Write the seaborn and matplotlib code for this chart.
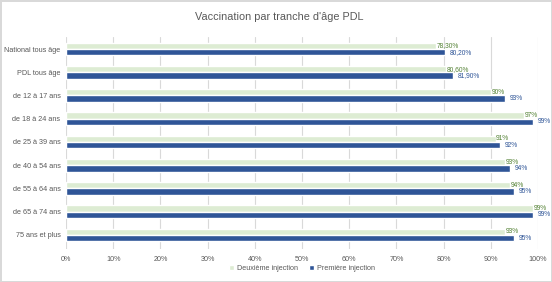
import matplotlib
matplotlib.use("Agg")
import matplotlib.pyplot as plt
import seaborn as sns
import pandas as pd
from matplotlib.ticker import FuncFormatter

categories = ["National tous âge", "PDL tous âge", "de 12 à 17 ans", "de 18 à 24 ans",
              "de 25 à 39 ans", "de 40 à 54 ans", "de 55 à 64 ans", "de 65 à 74 ans",
              "75 ans et plus"]
deuxieme = [78.3, 80.6, 90, 97, 91, 93, 94, 99, 93]
premiere = [80.2, 81.9, 93, 99, 92, 94, 95, 99, 95]
deuxieme_labels = ["78,30%", "80,60%", "90%", "97%", "91%", "93%", "94%", "99%", "93%"]
premiere_labels = ["80,20%", "81,90%", "93%", "99%", "92%", "94%", "95%", "99%", "95%"]
series = ["Deuxième injection", "Première injection"]

df = pd.DataFrame({
    "cat": categories * 2,
    "val": deuxieme + premiere,
    "serie": [series[0]] * len(categories) + [series[1]] * len(categories),
})

sns.set_theme(style="white")
plt.rcParams["font.family"] = ["Liberation Sans", "DejaVu Sans"]

green = "#DDECD3"
blue = "#2F5597"
fig = plt.figure(figsize=(5.52, 2.82), dpi=100)
ax = fig.add_axes([0.1196, 0.1174, 0.9746 - 0.1196, 0.8674 - 0.1174])

sns.barplot(data=df, y="cat", x="val", hue="serie", hue_order=series, orient="h",
            palette=[green, blue], width=0.55, saturation=1, ax=ax, legend=True)

ax.set_xlim(0, 100)
ax.set_ylim(8.6, -0.5)
ax.set_xticks(range(0, 101, 10))
ax.xaxis.set_major_formatter(FuncFormatter(lambda v, p: f"{int(v)}%"))
ax.grid(axis="x", color="#D9D9D9", linewidth=0.8)
ax.set_axisbelow(True)
for s in ax.spines.values():
    s.set_visible(False)
ax.tick_params(axis="both", length=0, labelsize=5.2, colors="#595959", pad=5)
ax.tick_params(axis="y", pad=4)
ax.set_xlabel("")
ax.set_ylabel("")

ax.bar_label(ax.containers[0], labels=deuxieme_labels, padding=0.5, fontsize=4.8,
             color="#548235")
ax.bar_label(ax.containers[1], labels=premiere_labels, padding=3.5, fontsize=4.8,
             color="#2F5597")

ax.legend(loc="center", bbox_to_anchor=(0.5, -0.092), ncol=2, frameon=False,
          fontsize=5.2, handlelength=0.7, handleheight=0.7, handletextpad=0.4,
          columnspacing=1.5, labelcolor="#595959", borderpad=0.1)

fig.text(0.505, 0.94, "Vaccination par tranche d'âge PDL", ha="center", va="center",
         fontsize=7.8, color="#595959")

fig.patch.set_edgecolor("#D9D9D9")
fig.patch.set_linewidth(1.0)

fig.savefig("out.png", dpi=100)
